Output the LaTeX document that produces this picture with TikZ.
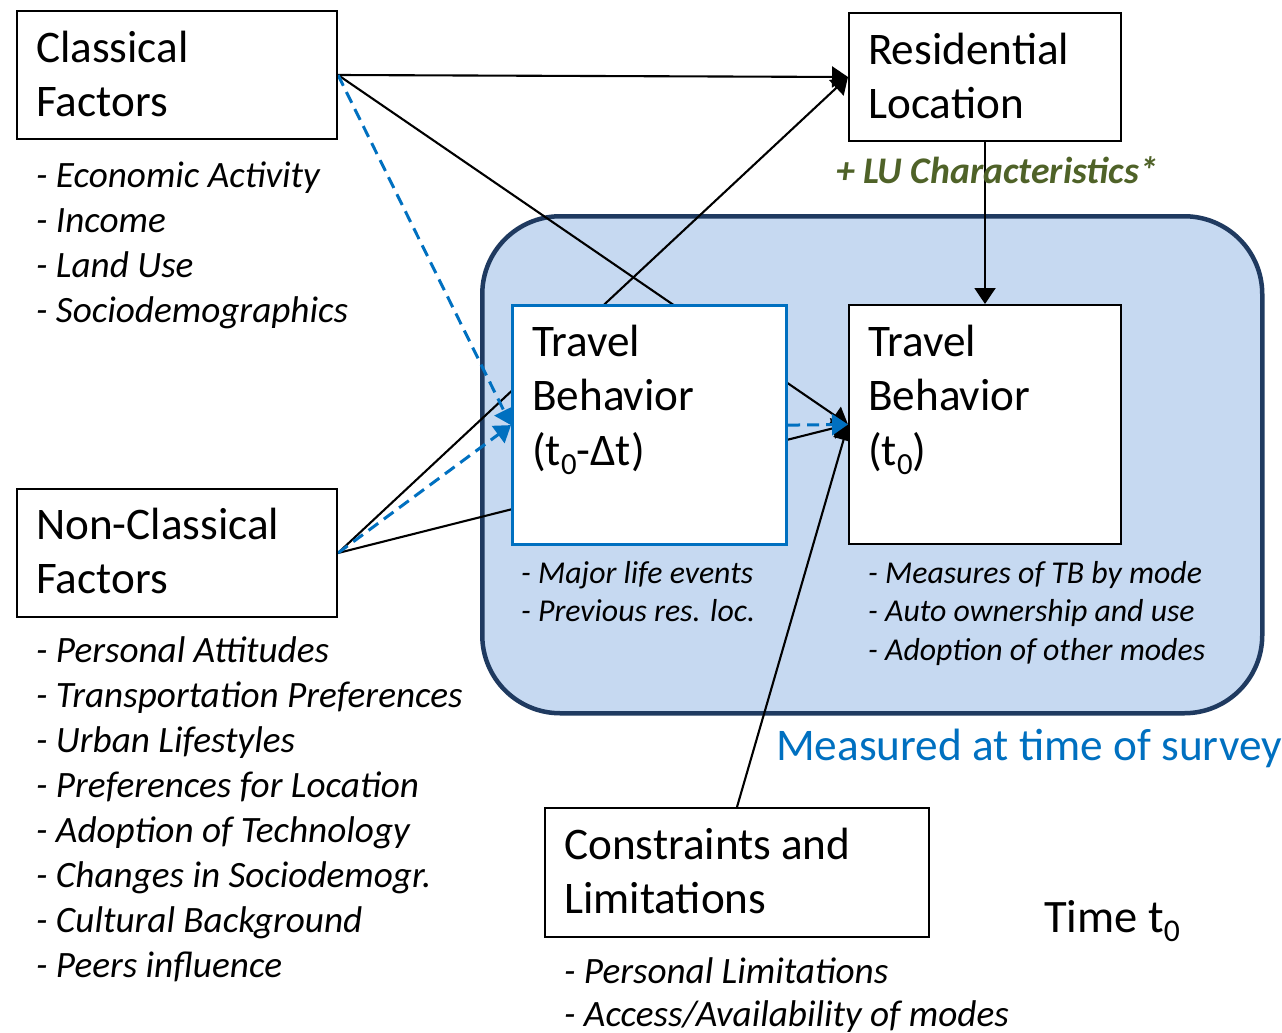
\documentclass[tikz,border=0pt]{standalone}
\usepackage{fontspec}
\setmainfont{Carlito}
\usepackage{graphicx}
\usetikzlibrary{arrows.meta}
\pgfdeclarelayer{back}
\pgfdeclarelayer{mid}
\pgfsetlayers{back,mid,main}
\definecolor{regionfill}{HTML}{C6D9F1}
\definecolor{regionline}{HTML}{1F3A60}
\definecolor{accent}{HTML}{0070C0}
\definecolor{olivetxt}{HTML}{4F6228}
\newcommand\subzero{\raisebox{-0.2em}{\scalebox{0.68}{0}}}
\newcommand\bigf{\fontsize{45.2pt}{54.5pt}\selectfont}
\newcommand\listf{\fontsize{37.2pt}{45pt}\selectfont\itshape}
\newcommand\smallf{\fontsize{31.8pt}{38.5pt}\selectfont\itshape}
\newcommand\conf{\fontsize{37.2pt}{43.5pt}\selectfont\itshape}
\tikzset{
  box/.style={draw=black, line width=2pt, fill=white, inner sep=0pt, anchor=north west},
  bluebox/.style={box, draw=accent, line width=3.2pt},
  region/.style={draw=regionline, line width=4.5pt, fill=regionfill, rounded corners=78pt, inner sep=0pt, anchor=north west},
  txt/.style={anchor=north west, inner sep=0pt, align=left},
  conn/.style={draw=black, line width=2.1pt, -{Triangle[length=16pt,width=21pt]}},
  dconn/.style={draw=accent, line width=3pt, dash pattern=on 12pt off 7pt, -{Triangle[length=16pt,width=21pt]}},
}
\begin{document}
\begin{tikzpicture}[x=1pt,y=-1pt]
\useasboundingbox (0,0) rectangle (1282,1033);

% boxes
\node[box, minimum width=320pt, minimum height=128pt] (cf) at (16,10) {};
\node[box, minimum width=272pt, minimum height=128pt] (rl) at (848,12) {};
\node[bluebox, minimum width=274pt, minimum height=239pt] (tb1) at (511,304) {};
\node[box, minimum width=272pt, minimum height=239pt] (tb0) at (848,304) {};
\node[box, minimum width=320pt, minimum height=128pt] (nc) at (16,488) {};
\node[box, minimum width=384pt, minimum height=129pt] (cs) at (544,807) {};

% box texts
\node[txt, font=\bigf, yshift=38.15pt] (cft) at (36,62) {\strut Classical\\Factors};
\node[txt, font=\bigf, yshift=38.15pt] (rlt) at (868,64) {\strut Residential\\Location};
\node[txt, font=\bigf, yshift=38.15pt] (tb1t) at (532,356) {\strut Travel\\Behavior\\(t\subzero-Δt)};
\node[txt, font=\bigf, yshift=38.15pt] (tb0t) at (868,356) {\strut Travel\\Behavior\\(t\subzero)};
\node[txt, font=\bigf, yshift=38.15pt] (nct) at (36,539) {\strut Non-Classical\\Factors};
\node[txt, font=\bigf, yshift=38.15pt] (cst) at (564,859) {\strut Constraints and\\Limitations};

% lists
\node[txt, font=\listf, yshift=31.5pt] (cfl) at (36,187) {\strut - Economic Activity\\- Income\\- Land Use\\- Sociodemographics};
\node[txt, font=\listf, yshift=31.5pt] (ncl) at (36,662) {\strut - Personal Attitudes\\- Transportation Preferences\\- Urban Lifestyles\\- Preferences for Location\\- Adoption of Technology\\- Changes in Sociodemogr.\\- Cultural Background\\- Peers influence};
\node[txt, font=\smallf, yshift=26.95pt] (tb1l) at (521,583) {\strut - Major life events\\- Previous res. loc.};
\node[txt, font=\smallf, yshift=26.95pt] (tb0l) at (868,583) {\strut - Measures of TB by mode\\- Auto ownership and use\\- Adoption of other modes};
\node[txt, font=\conf, yshift=30.45pt] (csl) at (564,983) {\strut - Personal Limitations\\- Access/Availability of modes};

% free labels
\node[anchor=base west, inner sep=0pt, font=\fontsize{37.6pt}{44pt}\selectfont\bfseries\itshape, text=olivetxt] (lu) at (836,183) {+ LU Characteristics*};
\node[anchor=base west, inner sep=0pt, font=\fontsize{45.3pt}{54pt}\selectfont, text=accent] (meas) at (776,760) {Measured at time of survey};
\node[anchor=base west, inner sep=0pt, font=\fontsize{46.5pt}{54pt}\selectfont] (time) at (1044,932) {Time t\subzero};

\begin{pgfonlayer}{back}
\node[region, minimum width=780pt, minimum height=497pt] (reg) at (480,214) {};
\end{pgfonlayer}

\begin{pgfonlayer}{mid}
\draw[conn] (cf.east) -- (rl.west);
\draw[conn] (cf.east) -- (tb0.west);
\draw[conn] (nc.east) -- (rl.west);
\draw[conn] (nc.east) -- (tb0.west);
\draw[conn] (cs.north) -- (tb0.west);
\draw[conn] (rl.south) -- (tb0.north);
\draw[dconn] (cf.east) -- (tb1.west);
\draw[dconn] (nc.east) -- (tb1.west);
\draw[dconn] (tb1.east) -- (tb0.west);
\end{pgfonlayer}
\end{tikzpicture}
\end{document}
